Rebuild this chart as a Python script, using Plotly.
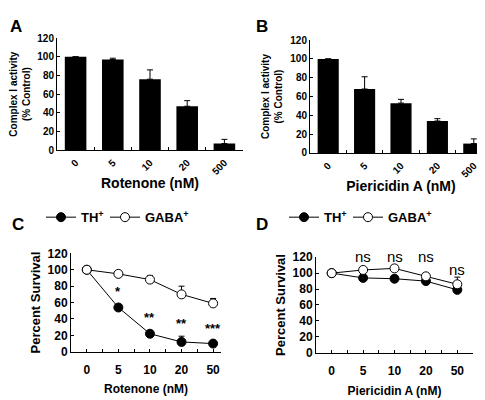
import plotly.graph_objects as go

FONT = "Arial, Liberation Sans, sans-serif"

# ---- data ----
bar_cats = ["0", "5", "10", "20", "500"]
rot_activity = [100, 97, 76, 47, 7]
rot_activity_err = [0, 1.5, 10, 6, 4.5]
pier_activity = [100, 68, 53, 34, 10]
pier_activity_err = [0, 13, 4, 2.5, 5]

surv_cats = ["0", "5", "10", "20", "50"]
rot_th = [100, 54, 22, 12, 10]
rot_th_err = [0, 2, 2, 7, 1]
rot_gaba = [100, 95, 88, 70, 59]
rot_gaba_err = [0, 4, 5, 10, 6]
rot_stars = ["", "*", "**", "**", "***"]
rot_star_y = [None, 74, 42, 34, 28]

pier_th = [100, 94, 93, 90, 79]
pier_th_err = [0, 2, 4, 2, 2]
pier_gaba = [100, 104, 106, 96, 86]
pier_gaba_err = [0, 2, 4, 2, 9]
pier_ns = ["", "ns", "ns", "ns", "ns"]
pier_ns_y = [None, 121, 121, 121, 105]

xi = list(range(len(surv_cats)))

fig = go.Figure()

def bar(x, y, err, xa, ya):
    fig.add_trace(go.Bar(
        x=x, y=y, xaxis=xa, yaxis=ya, marker=dict(color="black", line=dict(width=0)),
        error_y=dict(type="data", array=err, arrayminus=[0]*len(err), symmetric=False,
                     color="black", thickness=1, width=3),
        showlegend=False))

bar(bar_cats, rot_activity, rot_activity_err, "x", "y")
bar(bar_cats, pier_activity, pier_activity_err, "x2", "y2")

def lines(th, th_err, gaba, gaba_err, xa, ya, leg_th, leg_gaba):
    fig.add_trace(go.Scatter(
        x=xi, y=th, xaxis=xa, yaxis=ya, mode="lines+markers", name="TH<sup>+</sup>",
        line=dict(color="black", width=1),
        marker=dict(color="black", size=9, line=dict(color="black", width=1)),
        error_y=dict(type="data", array=th_err, arrayminus=[0]*5, symmetric=False,
                     color="black", thickness=1, width=3),
        legend=leg_th, showlegend=True))
    fig.add_trace(go.Scatter(
        x=xi, y=gaba, xaxis=xa, yaxis=ya, mode="lines+markers", name="GABA<sup>+</sup>",
        line=dict(color="black", width=1),
        marker=dict(color="white", size=9, line=dict(color="black", width=1)),
        error_y=dict(type="data", array=gaba_err, arrayminus=[0]*5, symmetric=False,
                     color="black", thickness=1, width=3),
        legend=leg_gaba, showlegend=True))

lines(rot_th, rot_th_err, rot_gaba, rot_gaba_err, "x3", "y3", "legend", "legend2")
lines(pier_th, pier_th_err, pier_gaba, pier_gaba_err, "x4", "y4", "legend3", "legend4")

W, H = 485, 400
def dx(a, b): return [a / W, b / W]
def dy(top, bot): return [1 - bot / H, 1 - top / H]

axis_common = dict(showline=True, linecolor="black", linewidth=1, showgrid=False,
                   zeroline=False, ticks="inside", tickcolor="black", ticklen=3)
ybar = dict(axis_common, range=[0, 120], dtick=20,
            tickfont=dict(family=FONT, size=10, color="black", weight="bold"))
ysurv = dict(axis_common, range=[0, 120], dtick=20,
             tickfont=dict(family=FONT, size=12, color="black", weight="bold"))

half_vals = [v / 2 for v in range(0, 10)]
half_text = [surv_cats[int(v)] if v == int(v) else "" for v in half_vals]

D_Y4 = dy(251, 350)

leg_common = dict(orientation="h", xanchor="left", yanchor="top", y=1 - 194 / H,
                  font=dict(family=FONT, size=13, color="black", weight="bold"),
                  bgcolor="rgba(0,0,0,0)", itemsizing="trace", itemwidth=30)

fig.update_layout(
    width=W, height=H, margin=dict(l=0, r=0, t=0, b=0),
    paper_bgcolor="white", plot_bgcolor="white", bargap=0.42,
    font=dict(family=FONT, color="black"),
    xaxis=dict(axis_common, domain=dx(49, 235), anchor="y", type="category",
               tickson="boundaries", tickangle=-45, ticklabelstandoff=2,
               tickfont=dict(family=FONT, size=10, color="black", weight="bold"),
               title=dict(text="Rotenone (nM)", standoff=2,
                          font=dict(family=FONT, size=14, color="black", weight="bold"))),
    yaxis=dict(ybar, domain=dy(24, 140), anchor="x",
               title=dict(text="Complex I activity<br>(% Control)", standoff=5,
                          font=dict(family=FONT, size=10, color="black", weight="bold"))),
    xaxis2=dict(axis_common, domain=dx(302, 484), anchor="y2", type="category",
                tickson="boundaries", tickangle=-45, ticklabelstandoff=2,
                tickfont=dict(family=FONT, size=10, color="black", weight="bold"),
                title=dict(text="Piericidin A (nM)", standoff=2,
                           font=dict(family=FONT, size=14, color="black", weight="bold"))),
    yaxis2=dict(ybar, domain=dy(26, 143), anchor="x2",
                title=dict(text="Complex I activity<br>(% Control)", standoff=5,
                           font=dict(family=FONT, size=10, color="black", weight="bold"))),
    xaxis3=dict(axis_common, domain=dx(63, 213), anchor="y3", range=[-0.5, 4.25],
                tickmode="array", tickvals=half_vals, ticktext=half_text, ticklabelstandoff=7,
                tickfont=dict(family=FONT, size=12, color="black", weight="bold"),
                title=dict(text="Rotenone (nM)", standoff=8,
                           font=dict(family=FONT, size=12, color="black", weight="bold"))),
    yaxis3=dict(ysurv, domain=dy(247, 349), anchor="x3",
                title=dict(text="Percent Survival", standoff=4,
                           font=dict(family=FONT, size=13, color="black", weight="bold"))),
    xaxis4=dict(axis_common, domain=dx(308, 465), anchor="y4", range=[-0.5, 4.5],
                tickmode="array", tickvals=half_vals, ticktext=half_text, ticklabelstandoff=7,
                tickfont=dict(family=FONT, size=12, color="black", weight="bold"),
                title=dict(text="Piericidin A (nM)", standoff=9,
                           font=dict(family=FONT, size=12, color="black", weight="bold"))),
    yaxis4=dict(ysurv, domain=D_Y4, anchor="x4",
                title=dict(text="Percent Survival", standoff=4,
                           font=dict(family=FONT, size=13, color="black", weight="bold"))),
    legend=dict(leg_common, x=33 / W),
    legend2=dict(leg_common, x=97 / W),
    legend3=dict(leg_common, x=276 / W),
    legend4=dict(leg_common, x=340 / W),
)

ann = []
for t, x, y in [("A", 0, 0), ("B", 246, 0), ("C", 2, 205), ("D", 246, 205)]:
    ann.append(dict(text=t, x=x / W, y=1 - y / H, xref="paper", yref="paper",
                    xanchor="left", yanchor="top", showarrow=False,
                    font=dict(family=FONT, size=17, color="black", weight="bold")))
for i, (s, yv) in enumerate(zip(rot_stars, rot_star_y)):
    if s:
        ann.append(dict(text=s, x=xi[i], y=yv, xref="x3", yref="y3", showarrow=False,
                        font=dict(family=FONT, size=13, color="black", weight="bold")))
for i, (s, yv) in enumerate(zip(pier_ns, pier_ns_y)):
    if s:
        ypap = D_Y4[0] + (yv / 120.0) * (D_Y4[1] - D_Y4[0])
        ann.append(dict(text=s, x=xi[i], y=ypap, xref="x4", yref="paper", showarrow=False,
                        font=dict(family=FONT, size=15, color="black")))
fig.update_layout(annotations=ann)

fig.write_html("out.html")
